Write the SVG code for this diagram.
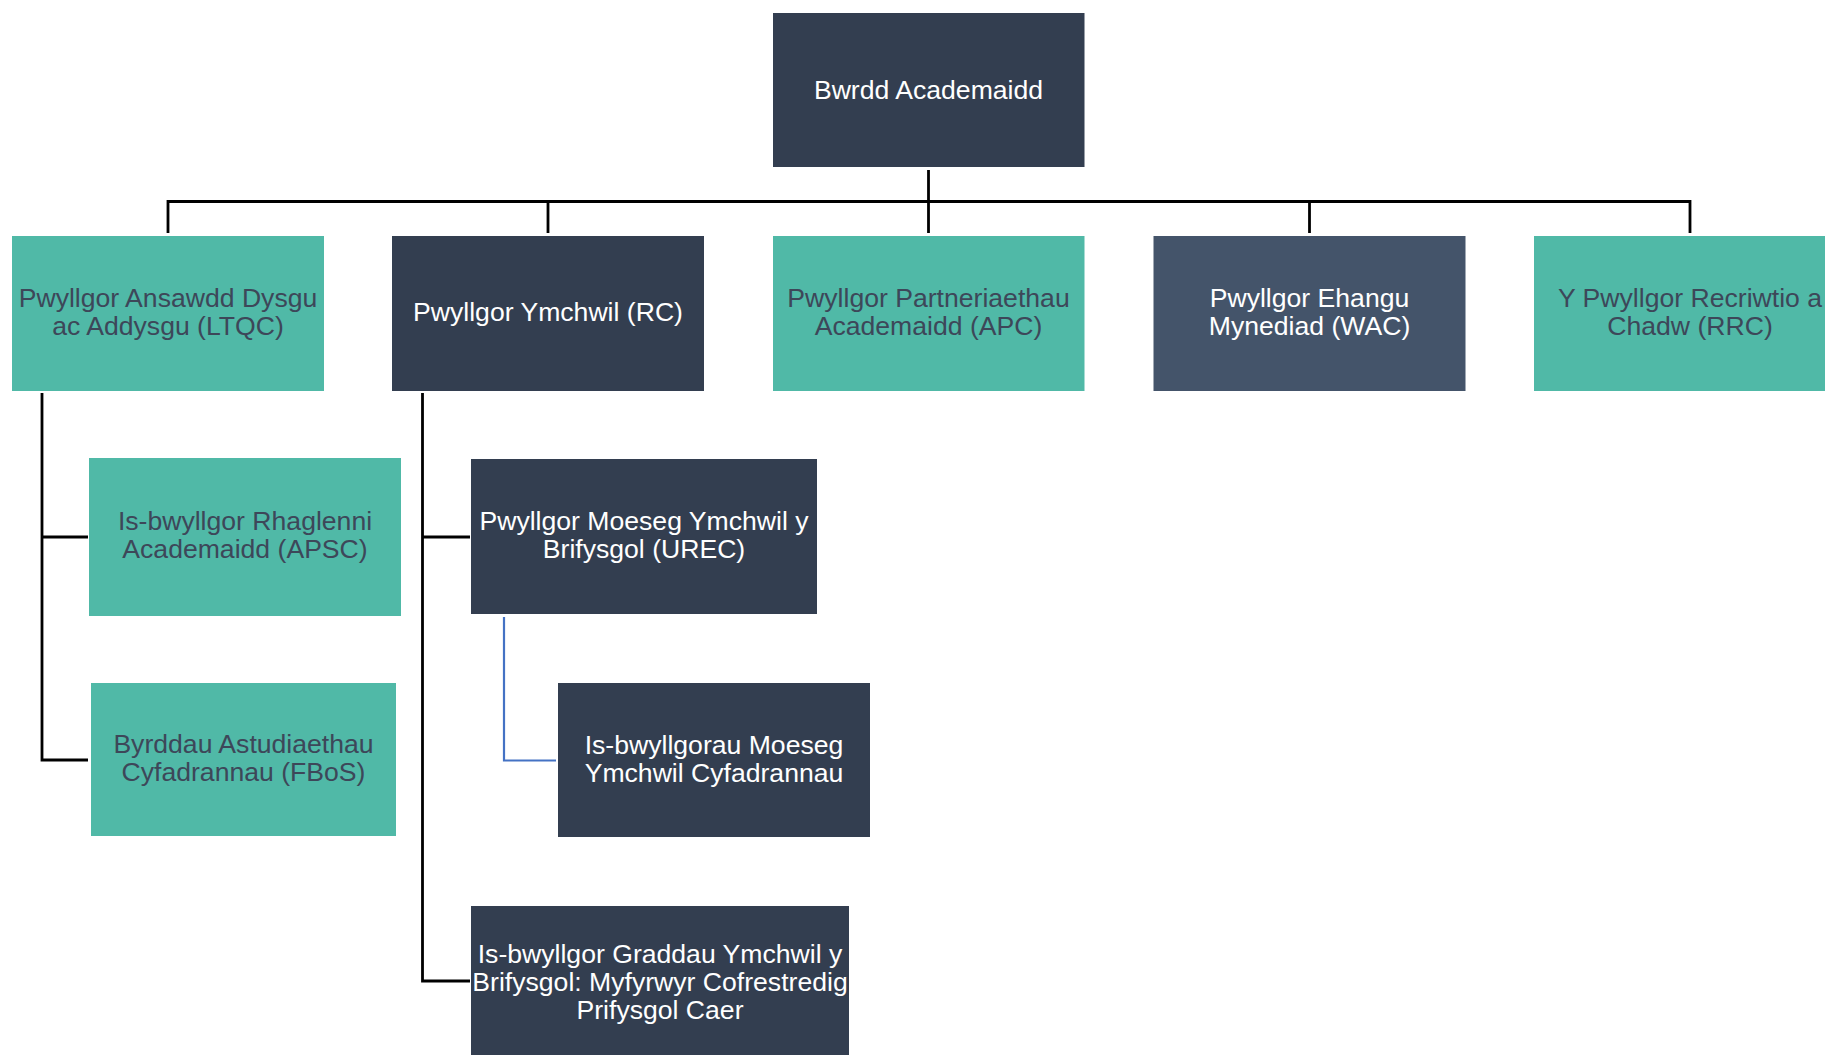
<svg xmlns="http://www.w3.org/2000/svg" width="1825" height="1055" viewBox="0 0 1825 1055">
<style>
.dark{fill:#333E50}
.mid{fill:#44546A}
.teal{fill:#50B9A7}
text{font-family:"Liberation Sans",Arial,sans-serif;font-size:26.6px;text-anchor:middle}
.tw{fill:#FFFFFF}
.td{fill:#3D4759}
.c{fill:none;stroke:#000000;stroke-width:2.8}
.cb{fill:none;stroke:#4472C4;stroke-width:2.2}
</style>
<rect width="1825" height="1055" fill="#FFFFFF"/>
<g id="connectors">
<path class="c" d="M928.5,170 V233"/>
<path class="c" d="M168,233 V201.5 H1690 V233"/>
<path class="c" d="M548,201.5 V233"/>
<path class="c" d="M1309.5,201.5 V233"/>
<path class="c" d="M42,393 V760 H88"/>
<path class="c" d="M42,537 H88"/>
<path class="c" d="M422.5,393 V981 H470"/>
<path class="c" d="M422.5,537 H470"/>
<path class="cb" d="M504,617 V760.5 H556"/>
</g>
<g id="n-bwrdd">
<rect class="dark" x="773" y="13" width="311.5" height="154"/>
<text class="tw" x="928.5" y="99">Bwrdd Academaidd</text>
</g>
<g id="n-ltqc">
<rect class="teal" x="12" y="236" width="312" height="155"/>
<text class="td" x="168" y="307">Pwyllgor Ansawdd Dysgu</text>
<text class="td" x="168" y="335">ac Addysgu (LTQC)</text>
</g>
<g id="n-rc">
<rect class="dark" x="392" y="236" width="312" height="155"/>
<text class="tw" x="548" y="321">Pwyllgor Ymchwil (RC)</text>
</g>
<g id="n-apc">
<rect class="teal" x="773" y="236" width="311.5" height="155"/>
<text class="td" x="928.5" y="307">Pwyllgor Partneriaethau</text>
<text class="td" x="928.5" y="335">Academaidd (APC)</text>
</g>
<g id="n-wac">
<rect class="mid" x="1153.5" y="236" width="312" height="155"/>
<text class="tw" x="1309.5" y="307">Pwyllgor Ehangu</text>
<text class="tw" x="1309.5" y="335">Mynediad (WAC)</text>
</g>
<g id="n-rrc">
<rect class="teal" x="1534" y="236" width="312" height="155"/>
<text class="td" x="1690" y="307">Y Pwyllgor Recriwtio a</text>
<text class="td" x="1690" y="335">Chadw (RRC)</text>
</g>
<g id="n-apsc">
<rect class="teal" x="89" y="458" width="312" height="158"/>
<text class="td" x="245" y="530">Is-bwyllgor Rhaglenni</text>
<text class="td" x="245" y="558">Academaidd (APSC)</text>
</g>
<g id="n-fbos">
<rect class="teal" x="91" y="683" width="305" height="153"/>
<text class="td" x="243.5" y="753">Byrddau Astudiaethau</text>
<text class="td" x="243.5" y="781">Cyfadrannau (FBoS)</text>
</g>
<g id="n-urec">
<rect class="dark" x="471" y="459" width="346" height="155"/>
<text class="tw" x="644" y="530">Pwyllgor Moeseg Ymchwil y</text>
<text class="tw" x="644" y="558">Brifysgol (UREC)</text>
</g>
<g id="n-faculty-ethics">
<rect class="dark" x="558" y="683" width="312" height="154"/>
<text class="tw" x="714" y="754">Is-bwyllgorau Moeseg</text>
<text class="tw" x="714" y="782">Ymchwil Cyfadrannau</text>
</g>
<g id="n-research-degrees">
<rect class="dark" x="471" y="906" width="378" height="155"/>
<text class="tw" x="660" y="963">Is-bwyllgor Graddau Ymchwil y</text>
<text class="tw" x="660" y="991">Brifysgol: Myfyrwyr Cofrestredig</text>
<text class="tw" x="660" y="1019">Prifysgol Caer</text>
</g>
</svg>
